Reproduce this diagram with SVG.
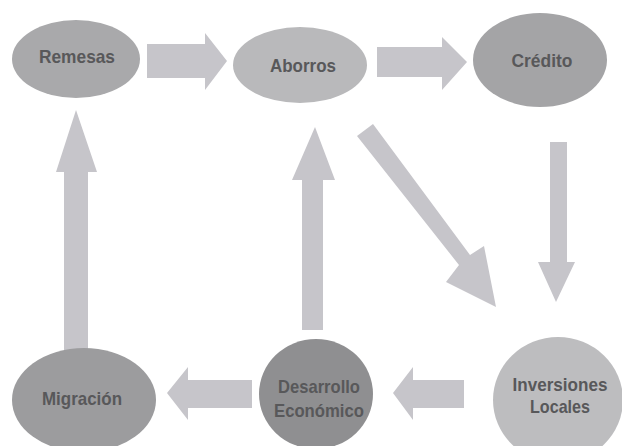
<svg xmlns="http://www.w3.org/2000/svg" width="622" height="446" viewBox="0 0 622 446">
<style>
.lbl{font-family:"Liberation Sans",Arial,sans-serif;font-size:19px;font-weight:bold;fill:#58585a;text-anchor:middle;dominant-baseline:central}
.arr{fill:#c6c5ca}
</style>
<rect width="622" height="446" fill="#ffffff"/>
<g id="connectors">
<polygon class="arr" points="147,44 205,44 205,33 227,61 205,90 205,78 147,78"/>
<polygon class="arr" points="377,47 442,47 442,37 467,62 442,90 442,77 377,77"/>
<polygon class="arr" points="550,142 567,142 567,262 575,262 556,302 538,262 550,262"/>
<polygon class="arr" points="357,136 373,124 470,255 484,246 496,307 446,282 459,265"/>
<polygon class="arr" points="302,330 323,330 323,180 335,180 315,127 292,180 302,180"/>
<polygon class="arr" points="64,446 88,446 88,172 97,172 76,110 56,172 64,172"/>
<polygon class="arr" points="252,380 252,408 188,408 188,420 167,393 188,367 188,380"/>
<polygon class="arr" points="464,380 464,408 413,408 413,420 393,393 413,367 413,380"/>
</g>
<g id="remesas"><ellipse cx="76" cy="59" rx="64" ry="39" fill="#a9a9ab"/><text class="lbl" x="77" y="56" textLength="76" lengthAdjust="spacingAndGlyphs">Remesas</text></g>
<g id="aborros"><ellipse cx="300" cy="65" rx="67" ry="38" fill="#b9b9bb"/><text class="lbl" x="303" y="65" textLength="66" lengthAdjust="spacingAndGlyphs">Aborros</text></g>
<g id="credito"><ellipse cx="540" cy="60" rx="67" ry="47" fill="#a4a4a6"/><text class="lbl" x="542" y="60" textLength="61" lengthAdjust="spacingAndGlyphs">Crédito</text></g>
<g id="migracion"><ellipse cx="84" cy="400" rx="72" ry="52" fill="#9c9c9e"/><text class="lbl" x="82" y="398" textLength="80" lengthAdjust="spacingAndGlyphs">Migración</text></g>
<g id="desarrollo"><ellipse cx="316" cy="394" rx="57" ry="55" fill="#8f8f91"/><text class="lbl" x="319" y="386" textLength="82" lengthAdjust="spacingAndGlyphs">Desarrollo</text><text class="lbl" x="319" y="410" textLength="90" lengthAdjust="spacingAndGlyphs">Económico</text></g>
<g id="inversiones"><ellipse cx="558" cy="400" rx="65" ry="63" fill="#bdbdbf"/><text class="lbl" x="560" y="384" textLength="95" lengthAdjust="spacingAndGlyphs">Inversiones</text><text class="lbl" x="560" y="406" textLength="60" lengthAdjust="spacingAndGlyphs">Locales</text></g>
</svg>
